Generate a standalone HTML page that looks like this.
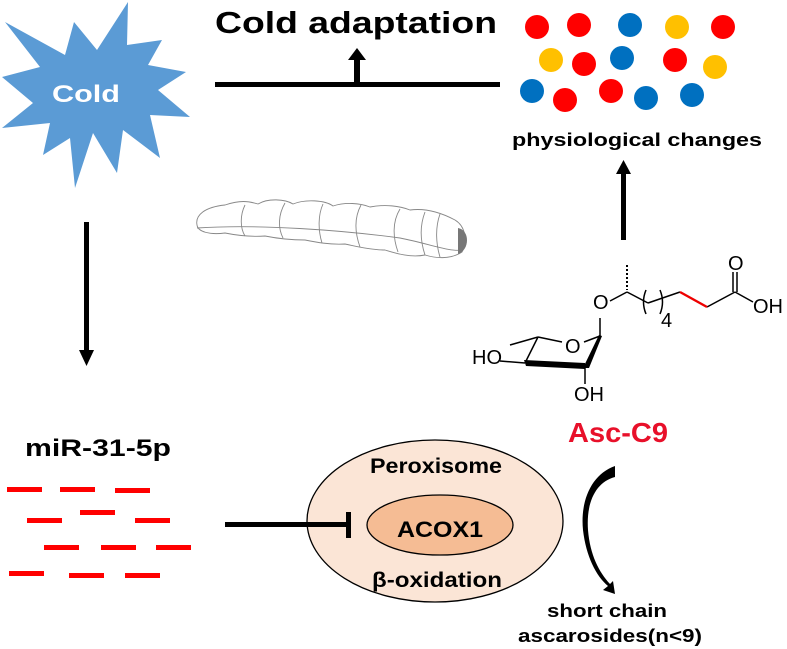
<!DOCTYPE html>
<html><head><meta charset="utf-8"><style>
body{margin:0;background:#fff;width:787px;height:649px;overflow:hidden}
svg{display:block;font-family:"Liberation Sans",Arial,sans-serif}
</style></head><body>
<svg width="787" height="649" viewBox="0 0 787 649" xmlns="http://www.w3.org/2000/svg">
<polygon fill="#5b9bd5" points="5,22 65,55 74,22 97,50 128,2 127,45 162,40 148,65 186,72 158,90 190,117 150,115 160,158 123,130 117,173 93,133 75,188 70,138 43,155 50,123 2,128 33,103 2,77 40,67"/>
<text x="52" y="102" fill="#fff" font-weight="bold" font-size="24" textLength="68" lengthAdjust="spacingAndGlyphs">Cold</text>
<text x="215" y="33" font-weight="bold" font-size="31" textLength="282" lengthAdjust="spacingAndGlyphs">Cold adaptation</text>
<rect x="215" y="82" width="285" height="5"/>
<rect x="354" y="58" width="6" height="26"/>
<polygon points="348,60 357,48 366,60"/>
<g>
<circle cx="537" cy="27" r="12" fill="#f00"/><circle cx="579" cy="25" r="12" fill="#f00"/><circle cx="630" cy="25" r="12" fill="#0070c0"/><circle cx="677" cy="27" r="12" fill="#ffc000"/><circle cx="723" cy="27" r="12" fill="#f00"/>
<circle cx="551" cy="60" r="12" fill="#ffc000"/><circle cx="584" cy="64" r="12" fill="#f00"/><circle cx="622" cy="58" r="12" fill="#0070c0"/><circle cx="675" cy="60" r="12" fill="#f00"/><circle cx="715" cy="67" r="12" fill="#ffc000"/>
<circle cx="532" cy="91" r="12" fill="#0070c0"/><circle cx="565" cy="100" r="12" fill="#f00"/><circle cx="611" cy="91" r="12" fill="#f00"/><circle cx="646" cy="98" r="12" fill="#0070c0"/><circle cx="692" cy="95" r="12" fill="#0070c0"/>
</g>
<text x="512" y="146" font-weight="bold" font-size="18" textLength="250" lengthAdjust="spacingAndGlyphs">physiological changes</text>
<rect x="621" y="172" width="5" height="68"/>
<polygon points="616,174 623.5,160 631,174"/>
<rect x="84" y="222" width="5" height="130"/>
<polygon points="79,350 86.5,366 94,350"/>
<!-- larva -->
<g fill="none" stroke="#888" stroke-width="0.9">
<path d="M197,225 C195,215 205,207 225,205 C240,200 248,201 258,204 C268,198 285,199 293,204 C305,199 325,200 333,206 C345,202 360,203 370,207 C385,204 400,206 410,210 C425,208 440,212 455,220 C465,226 468,240 462,252 C450,260 435,258 425,255 C410,258 395,253 385,250 C370,250 355,246 345,244 C330,245 315,242 305,240 C290,240 275,238 265,236 C250,237 235,235 225,233 C210,235 198,232 197,225 Z"/>
<path d="M197,228 C260,224 340,230 400,238 C430,244 450,252 462,250"/>
<path d="M245,205 C240,215 240,228 245,236 M285,203 C278,215 278,228 283,238 M323,204 C318,215 318,230 322,243 M361,205 C354,218 355,233 360,247 M400,209 C392,222 393,238 398,252 M425,212 C420,225 420,240 425,255 M440,214 C435,228 436,244 440,257"/>
</g>
<path d="M458,228 C470,230 470,250 458,254 Z" fill="#777"/>
<!-- molecule -->
<g stroke="#000" stroke-width="1.5" fill="none">
<path d="M627,265 L627,290" stroke-dasharray="2,2" stroke-width="2"/>
<path d="M627,292 L610,301 M627,292 L648,303 M648,303 L680,292 M707,307 L735,292 M735,292 L753,302 M733,292 L733,272 M737,292 L737,272"/>
<path d="M680,292 L707,307" stroke="#e00" stroke-width="2.4"/>
<path d="M646,290 Q641,302 646,314 M660,290 Q665,302 660,314"/>
<path d="M600,318 L600,336 M600,336 L584,342 M562,342 L538,337 M538,337 L510,345 M538,337 L525,363 M525,363 L500,361 M585,366 L585,384"/>
</g>
<polygon points="524,360 585,363 585,369 526,366"/>
<polygon points="583,368 599,335 602,336 589,368"/>
<g font-size="20">
<text x="593" y="309">O</text>
<text x="565" y="353">O</text>
<text x="728" y="270">O</text>
<text x="753" y="313">OH</text>
<text x="661" y="327">4</text>
<text x="472" y="364">HO</text>
<text x="574" y="401">OH</text>
</g>
<text x="568" y="442" fill="#e8102a" font-weight="bold" font-size="28" textLength="100" lengthAdjust="spacingAndGlyphs">Asc-C9</text>
<!-- miR -->
<text x="25" y="456" font-weight="bold" font-size="24" textLength="146" lengthAdjust="spacingAndGlyphs">miR-31-5p</text>
<g fill="#f00">
<rect x="7" y="487" width="35" height="5"/><rect x="60" y="487" width="35" height="5"/><rect x="115" y="488" width="35" height="5"/>
<rect x="27" y="518" width="35" height="5"/><rect x="80" y="510" width="35" height="5"/><rect x="135" y="518" width="35" height="5"/>
<rect x="44" y="545" width="35" height="5"/><rect x="101" y="545" width="35" height="5"/><rect x="156" y="545" width="35" height="5"/>
<rect x="9" y="571" width="35" height="5"/><rect x="69" y="573" width="35" height="5"/><rect x="125" y="573" width="35" height="5"/>
</g>
<ellipse cx="435" cy="521" rx="128" ry="81" fill="#fbe5d6" stroke="#000" stroke-width="1.3"/>
<ellipse cx="440" cy="525" rx="73" ry="30" fill="#f4b183" fill-opacity="0.8" stroke="#000" stroke-width="1.3"/>
<rect x="225" y="522" width="125" height="5"/>
<rect x="346" y="512" width="5" height="26"/>
<text x="370" y="473" font-weight="bold" font-size="21" textLength="132" lengthAdjust="spacingAndGlyphs">Peroxisome</text>
<text x="397" y="537" font-weight="bold" font-size="22" textLength="86" lengthAdjust="spacingAndGlyphs">ACOX1</text>
<text x="372" y="587" font-weight="bold" font-size="21" textLength="130" lengthAdjust="spacingAndGlyphs">β-oxidation</text>
<path d="M615,466 C592,474 580,500 583,530 C586,556 596,576 608,586 L603,590 L615,594 L613,581 L610,584 C599,572 590,555 588,530 C586,502 596,482 615,477 Z"/>
<text x="547" y="617" font-weight="bold" font-size="18" textLength="120" lengthAdjust="spacingAndGlyphs">short chain</text>
<text x="518" y="642" font-weight="bold" font-size="18" textLength="184" lengthAdjust="spacingAndGlyphs">ascarosides(n&lt;9)</text>
</svg>
</body></html>
